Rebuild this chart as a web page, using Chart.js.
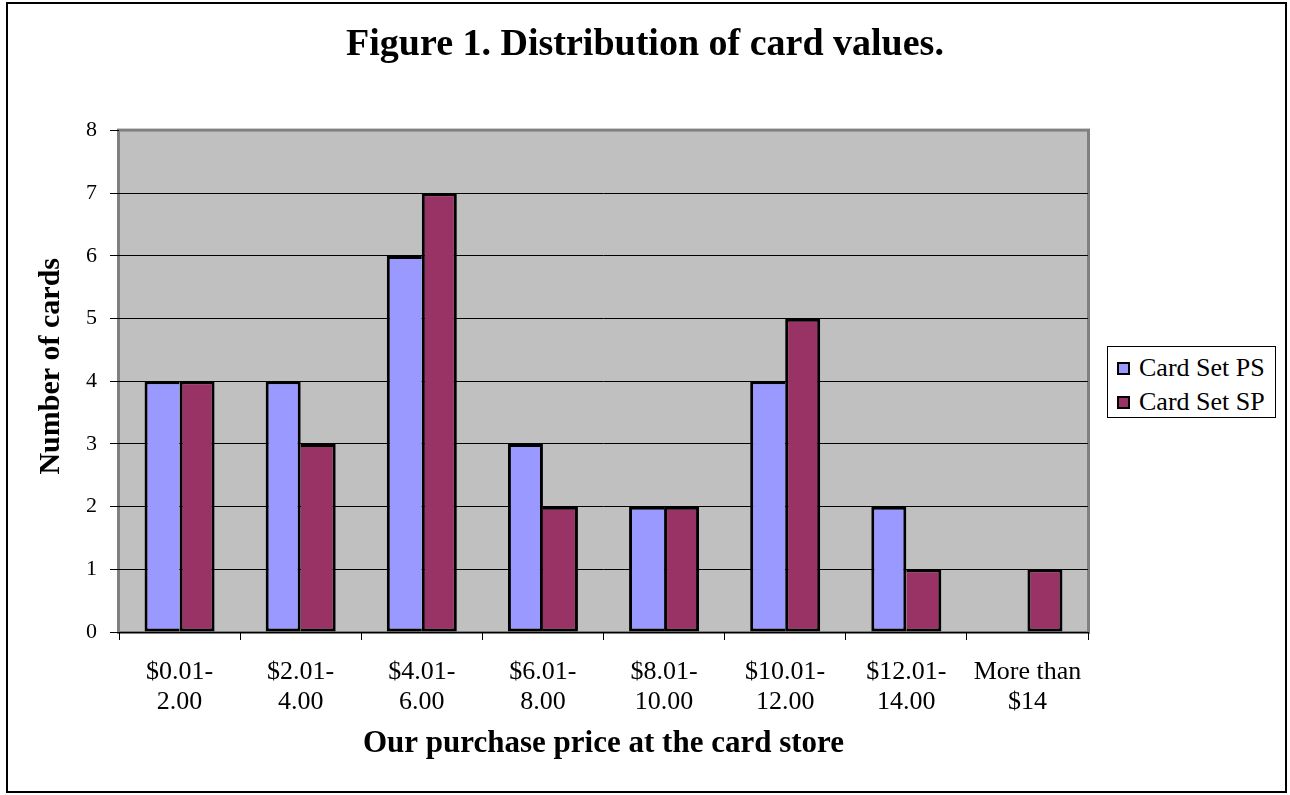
<!DOCTYPE html>
<html>
<head>
<meta charset="utf-8">
<script src="https://cdn.jsdelivr.net/npm/chart.js@4/dist/chart.umd.min.js"></script>
<style>
  body { margin: 0; background: #fff; }
  #wrap { position: relative; width: 1290px; height: 795px; }
  #legend {
    position: absolute; left: 1107px; top: 346px; width: 169px; height: 72px;
    box-sizing: border-box; border: 1px solid #000; background: #fff;
    padding: 4px 0 0 9px;
    font-family: "Liberation Serif", "Times New Roman", serif; font-size: 26px; color: #000;
  }
  #legend div { height: 34px; line-height: 34px; white-space: nowrap; }
  #legend span.sw {
    display: inline-block; width: 13px; height: 13px; box-sizing: border-box;
    border: 2px solid #000; margin-right: 9px; vertical-align: 1px;
  }
</style>
</head>
<body>
<div id="wrap">
  <canvas id="canvas" width="1290" height="795"></canvas>
  <div id="legend"></div>
</div>
<script>
var categories = [
  ['$0.01-', '2.00'], ['$2.01-', '4.00'], ['$4.01-', '6.00'], ['$6.01-', '8.00'],
  ['$8.01-', '10.00'], ['$10.01-', '12.00'], ['$12.01-', '14.00'], ['More than', '$14']
];
var seriesNames = ['Card Set PS', 'Card Set SP'];
var cardSetPS = [4, 4, 6, 3, 2, 4, 2, 0];
var cardSetSP = [4, 3, 7, 2, 2, 5, 1, 1];
var yTicks = [0, 1, 2, 3, 4, 5, 6, 7, 8];
var colors = ['#9999FF', '#993366'];

var serif = "'Liberation Serif', 'Times New Roman', serif";
Chart.defaults.font.family = serif;
Chart.defaults.color = '#000';

// gray plot area + outer frame
var frame = {
  id: 'frame',
  beforeDraw: function (chart) {
    var a = chart.chartArea, c = chart.ctx;
    c.save();
    c.fillStyle = '#C0C0C0';
    c.fillRect(a.left, a.top, a.right - a.left, a.bottom - a.top);
    c.strokeStyle = '#808080';
    c.lineWidth = 3;
    c.strokeRect(a.left - 0.5, a.top - 0.5, a.right - a.left + 1, a.bottom - a.top + 1);
    c.restore();
  },
  afterDraw: function (chart) {
    var c = chart.ctx;
    c.save();
    c.strokeStyle = '#000';
    c.lineWidth = 2;
    c.strokeRect(7, 3, 1279, 789);
    c.restore();
  }
};

// the two bars of a pair touch: the taller one keeps the shared edge
var bw = 3;
function psBorder(ctx) {
  var i = ctx.dataIndex;
  if (!cardSetPS[i]) return 0;
  return { left: bw, top: bw, bottom: bw, right: cardSetPS[i] > cardSetSP[i] ? bw : 0 };
}
function spBorder(ctx) {
  var i = ctx.dataIndex;
  if (!cardSetSP[i]) return 0;
  return { left: cardSetPS[i] > cardSetSP[i] ? 0 : bw, top: bw, bottom: bw, right: bw };
}

var chart = new Chart(document.getElementById('canvas').getContext('2d'), {
  type: 'bar',
  data: {
    labels: categories,
    datasets: [{
      label: seriesNames[0],
      data: cardSetPS,
      backgroundColor: colors[0],
      borderColor: '#000',
      borderWidth: psBorder,
      borderSkipped: false
    },
    {
      label: seriesNames[1],
      data: cardSetSP,
      backgroundColor: colors[1],
      borderColor: '#000',
      borderWidth: spBorder,
      borderSkipped: false
    }]
  },
  options: {
    responsive: false,
    animation: false,
    devicePixelRatio: 1,
    layout: { padding: 0 },
    datasets: { bar: { categoryPercentage: 0.578, barPercentage: 1 } },
    plugins: {
      legend: { display: false },
      tooltip: { enabled: false },
      title: {
        display: true,
        text: 'Figure 1. Distribution of card values.',
        font: { size: 38, weight: 'bold', family: serif },
        color: '#000',
        padding: { top: 22, bottom: 63 }
      }
    },
    scales: {
      x: {
        grid: { offset: true, drawOnChartArea: false, drawTicks: true, tickLength: 8, tickColor: '#000', lineWidth: 1 },
        border: { display: false },
        ticks: { font: { size: 26, lineHeight: 1.15 }, padding: 17, maxRotation: 0, autoSkip: false },
        title: {
          display: true,
          text: 'Our purchase price at the card store',
          font: { size: 31, weight: 'bold', lineHeight: 1.2 },
          padding: { top: 0, bottom: 32 }
        },
        afterFit: function (s) { s.height = 163; }
      },
      y: {
        min: 0,
        max: 8,
        afterBuildTicks: function (s) { s.ticks = yTicks.map(function (v) { return { value: v }; }); },
        grid: {
          color: function (ctx) { return ctx.tick && ctx.tick.value === 8 ? 'rgba(0,0,0,0)' : '#000'; },
          tickColor: '#000',
          tickLength: 9,
          lineWidth: 1
        },
        border: { display: false },
        ticks: { font: { size: 22 }, padding: 13 },
        title: {
          display: true,
          // leading spaces nudge the label up, as in the original
          text: '    Number of cards',
          font: { size: 30, weight: 'bold', lineHeight: 1.2 },
          padding: { top: 33, bottom: 0 }
        },
        afterFit: function (s) { s.width = 119; }
      },
      // empty right-hand strip that leaves room for the legend
      side: {
        position: 'right',
        display: true,
        grid: { display: false },
        border: { display: false },
        ticks: { display: false },
        afterFit: function (s) { s.width = 202; }
      }
    }
  },
  plugins: [frame]
});

var legend = document.getElementById('legend');
seriesNames.forEach(function (name, i) {
  var row = document.createElement('div');
  var sw = document.createElement('span');
  sw.className = 'sw';
  sw.style.background = colors[i];
  row.appendChild(sw);
  row.appendChild(document.createTextNode(name));
  legend.appendChild(row);
});
</script>
</body>
</html>
